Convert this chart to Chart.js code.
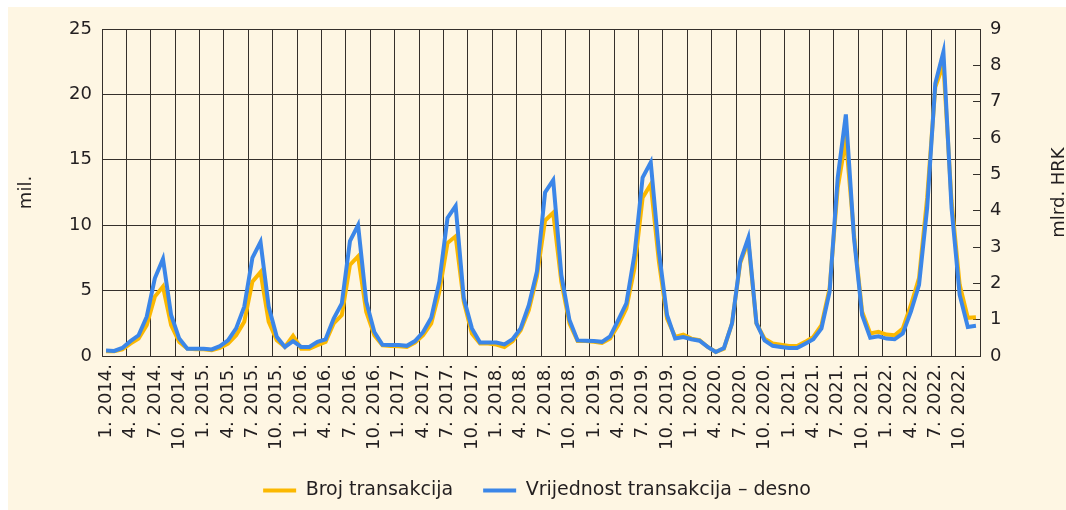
<!DOCTYPE html>
<html>
<head>
<meta charset="utf-8">
<script src="https://cdn.jsdelivr.net/npm/chart.js@4.4.1/dist/chart.umd.min.js"></script>
<style>
  body { margin: 0; background: #fff; }
  #bg { position: absolute; left: 8px; top: 7px; width: 1058px; height: 503px; background: #fef6e3; }
  #wrap { position: absolute; left: 8px; top: 3px; width: 1058px; height: 507px; }
</style>
</head>
<body>
<div id="bg"></div>
<div id="wrap"><canvas id="chart"></canvas></div>
<script>
var years = [2014, 2015, 2016, 2017, 2018, 2019, 2020, 2021, 2022];

// Broj transakcija, mil. (lijevo), mjesečno 1.2014. - 12.2022.
var brojTransakcija = [
  0.36, 0.36, 0.51, 0.95, 1.33, 2.36, 4.54, 5.31, 2.36, 1.08, 0.56, 0.51,
  0.51, 0.44, 0.62, 0.95, 1.59, 2.62, 5.69, 6.41, 2.62, 1.20, 0.69, 1.54,
  0.56, 0.56, 0.82, 1.08, 2.49, 3.13, 6.97, 7.62, 3.38, 1.59, 0.82, 0.77,
  0.74, 0.69, 1.03, 1.59, 2.49, 4.92, 8.64, 9.15, 4.15, 1.72, 0.95, 0.95,
  0.87, 0.69, 1.13, 1.97, 3.51, 6.08, 10.36, 10.95, 5.69, 2.49, 1.15, 1.15,
  1.08, 1.00, 1.33, 2.36, 3.64, 6.72, 12.10, 13.13, 7.23, 2.87, 1.46, 1.64,
  1.33, 1.21, 0.69, 0.31, 0.56, 2.49, 7.10, 8.77, 2.49, 1.33, 0.95, 0.87,
  0.77, 0.77, 1.08, 1.46, 2.36, 5.18, 12.87, 16.60, 9.28, 3.38, 1.72, 1.85,
  1.64, 1.59, 2.10, 3.90, 5.95, 12.10, 20.56, 22.30, 11.85, 5.44, 2.92, 2.97
];

// Vrijednost transakcija, mlrd. HRK (desno)
var vrijednostTransakcija = [
  0.15, 0.14, 0.22, 0.41, 0.57, 1.08, 2.14, 2.67, 1.13, 0.48, 0.20, 0.20,
  0.20, 0.18, 0.27, 0.43, 0.76, 1.36, 2.70, 3.14, 1.36, 0.53, 0.25, 0.41,
  0.25, 0.25, 0.39, 0.46, 1.03, 1.45, 3.16, 3.60, 1.50, 0.66, 0.31, 0.30,
  0.30, 0.28, 0.41, 0.66, 1.05, 2.05, 3.80, 4.13, 1.59, 0.76, 0.37, 0.37,
  0.37, 0.32, 0.46, 0.76, 1.40, 2.33, 4.50, 4.84, 2.23, 0.99, 0.43, 0.42,
  0.41, 0.39, 0.54, 0.99, 1.45, 2.79, 4.91, 5.33, 2.88, 1.13, 0.48, 0.52,
  0.46, 0.42, 0.25, 0.11, 0.22, 0.90, 2.60, 3.25, 0.90, 0.43, 0.28, 0.25,
  0.22, 0.22, 0.34, 0.46, 0.76, 1.77, 4.91, 6.65, 3.25, 1.13, 0.50, 0.54,
  0.48, 0.46, 0.62, 1.22, 1.96, 4.08, 7.50, 8.37, 4.08, 1.68, 0.80, 0.83
];

var labels = [];
years.forEach(function(y) {
  for (var m = 1; m <= 12; m++) labels.push(m + '. ' + y + '.');
});

var textColor = '#231f20';
var gridColor = '#35302b';
var fontFamily = '"DejaVu Sans", Verdana, sans-serif';

Chart.defaults.font.family = fontFamily;
Chart.defaults.color = textColor;

// naslovi osi (oba čitaju odozdo prema gore)
var axisTitles = {
  id: 'axisTitles',
  afterDraw: function(chart) {
    var ctx = chart.ctx;
    var area = chart.chartArea;
    var mid = (area.top + area.bottom) / 2;
    ctx.save();
    ctx.font = '18px ' + fontFamily;
    ctx.fillStyle = textColor;
    ctx.textAlign = 'center';
    ctx.textBaseline = 'middle';
    [['mil.', 18], ['mlrd. HRK', 1051]].forEach(function(t) {
      ctx.save();
      ctx.translate(t[1], mid);
      ctx.rotate(-Math.PI / 2);
      ctx.fillText(t[0], 0, 0);
      ctx.restore();
    });
    ctx.restore();
  }
};

var ctx = document.getElementById('chart').getContext('2d');
var chart = new Chart(ctx, {
  type: 'line',
  data: {
    labels: labels,
    datasets: [
      {
        label: 'Broj transakcija',
        data: brojTransakcija,
        yAxisID: 'y',
        borderColor: '#fbb800',
        backgroundColor: '#fbb800',
        borderWidth: 4,
        pointRadius: 0,
        tension: 0,
        order: 1
      },
      {
        label: 'Vrijednost transakcija – desno',
        data: vrijednostTransakcija,
        yAxisID: 'y1',
        borderColor: '#3b86e8',
        backgroundColor: '#3b86e8',
        borderWidth: 4,
        pointRadius: 0,
        tension: 0,
        order: 0
      }
    ]
  },
  options: {
    responsive: true,
    maintainAspectRatio: false,
    animation: false,
    layout: { padding: 0 },
    plugins: {
      tooltip: { enabled: false },
      legend: {
        position: 'bottom',
        labels: {
          font: { size: 19 },
          color: textColor,
          boxWidth: 33,
          boxHeight: 4,
          padding: 30,
          sort: function(a, b) { return a.datasetIndex - b.datasetIndex; },
          generateLabels: function(c) {
            return Chart.defaults.plugins.legend.labels.generateLabels(c).map(function(l) {
              l.lineWidth = 0;
              l.fillStyle = l.strokeStyle;
              return l;
            });
          }
        }
      }
    },
    scales: {
      x: {
        offset: true,
        grid: {
          offset: true,
          drawTicks: false,
          lineWidth: 1,
          color: function(c) { return c.index % 3 === 0 ? gridColor : 'rgba(0,0,0,0)'; }
        },
        border: { color: gridColor, width: 1 },
        ticks: {
          autoSkip: false,
          maxRotation: 90,
          minRotation: 90,
          padding: 8,
          font: { size: 18 },
          color: textColor,
          callback: function(v, i) { return i % 3 === 0 ? labels[i] : ''; }
        },
        afterFit: function(s) { s.height = 95; }
      },
      y: {
        position: 'left',
        min: 0,
        max: 25,
        grid: { color: gridColor, drawTicks: false, lineWidth: 1 },
        border: { color: gridColor, width: 1 },
        ticks: { stepSize: 5, padding: 10, font: { size: 18, lineHeight: 1 }, color: textColor },
        afterFit: function(s) { s.width = 94; }
      },
      y1: {
        position: 'right',
        min: 0,
        max: 9,
        grid: { drawOnChartArea: false, drawTicks: true, tickLength: -7, color: gridColor },
        border: { color: gridColor, width: 1 },
        ticks: { stepSize: 1, padding: 17, font: { size: 18, lineHeight: 1 }, color: textColor },
        afterFit: function(s) { s.width = 86; }
      }
    }
  },
  plugins: [axisTitles]
});
</script>
</body>
</html>
